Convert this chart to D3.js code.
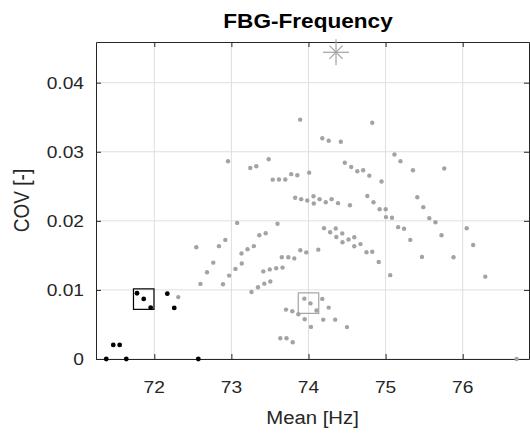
<!DOCTYPE html>
<html>
<head>
<meta charset="utf-8">
<script src="https://cdn.jsdelivr.net/npm/d3@7"></script>
<style>
  html, body { margin: 0; padding: 0; background: #fff; }
  svg { display: block; font-family: "Liberation Sans", Arial, Helvetica, sans-serif; }
</style>
</head>
<body>
<svg id="chart" width="530" height="434"></svg>
<script>
// Selected sensor (black) and the remaining sensors (gray): mean frequency vs. coefficient of variation
const selectedMean = [71.377, 71.468, 71.551, 71.637, 71.776, 71.863, 71.953, 72.169, 72.259, 72.571];
const selectedCov  = [0, 0.00204, 0.00204, 0, 0.00952, 0.00870, 0.00744, 0.00946, 0.00740, 0];

const otherMean = [
  72.956, 73.245, 73.323, 73.484, 73.536, 73.617, 73.699, 73.776, 73.855, 74.009,
  73.892, 74.179, 74.262, 74.419, 74.471, 74.554, 74.633, 74.709, 74.789, 74.947,
  74.827, 75.115, 75.193, 75.355, 75.761, 73.827, 73.905, 73.984, 74.065, 74.069,
  74.144, 74.224, 74.300, 74.383, 74.538, 74.763, 74.843, 74.923, 75.001, 75.005,
  75.083, 75.163, 75.239, 75.320, 75.411, 75.489, 75.567, 75.647, 75.725, 76.052,
  76.136, 75.472, 75.881, 76.293, 75.060, 74.201, 74.281, 74.353, 74.361, 74.438,
  74.441, 74.519, 74.594, 74.594, 74.674, 74.752, 74.827, 74.911, 73.075, 73.598,
  73.362, 73.445, 72.921, 72.839, 72.545, 73.291, 73.209, 73.131, 72.765, 73.135,
  73.053, 72.684, 73.414, 73.498, 73.581, 73.663, 73.654, 73.738, 73.816, 73.894,
  73.971, 74.127, 72.971, 72.599, 72.891, 73.261, 73.345, 73.427, 73.505, 72.311,
  73.946, 74.026, 74.104, 74.179, 74.262, 73.708, 73.790, 73.868, 73.951, 74.191,
  74.346, 74.032, 74.499, 73.634, 73.715, 73.795, 76.700
];
const otherCov = [
  0.02862, 0.02766, 0.02790, 0.02891, 0.02596, 0.02599, 0.02599, 0.02676, 0.02660, 0.02698,
  0.03465, 0.03195, 0.03159, 0.03145, 0.02842, 0.02780, 0.02718, 0.02732, 0.02654, 0.02570,
  0.03421, 0.02961, 0.02862, 0.02732, 0.02758, 0.02334, 0.02314, 0.02295, 0.02356, 0.02252,
  0.02314, 0.02269, 0.02314, 0.02256, 0.02226, 0.02360, 0.02269, 0.02168, 0.02168, 0.02054,
  0.02045, 0.01909, 0.01886, 0.01724, 0.02342, 0.02198, 0.02039, 0.01980, 0.01792, 0.01893,
  0.01651, 0.01478, 0.01473, 0.01192, 0.01214, 0.01894, 0.01835, 0.01890, 0.01767, 0.01818,
  0.01690, 0.01731, 0.01763, 0.01632, 0.01663, 0.01546, 0.01553, 0.01405, 0.01970, 0.01958,
  0.01792, 0.01821, 0.01724, 0.01634, 0.01618, 0.01634, 0.01589, 0.01528, 0.01395, 0.01383,
  0.01304, 0.01256, 0.01268, 0.01297, 0.01314, 0.01323, 0.01473, 0.01473, 0.01456, 0.01575,
  0.01543, 0.01583, 0.01207, 0.01087, 0.01082, 0.00971, 0.01039, 0.01091, 0.01123, 0.00896,
  0.00874, 0.00805, 0.00703, 0.00870, 0.00744, 0.00715, 0.00692, 0.00648, 0.00576, 0.00570,
  0.00570, 0.00465, 0.00462, 0.00301, 0.00301, 0.00243, 0
];

// Cluster centres drawn as square markers, and the reference point drawn as an asterisk
const boxMean = [71.863, 74.000];
const boxCov  = [0.00867, 0.00809];
const boxGroup = ["selected", "other"];
const starMean = [74.357];
const starCov  = [0.0444];

const xTicks = [72, 73, 74, 75, 76];
const yTicks = [0, 0.01, 0.02, 0.03, 0.04];
const yTickLabels = ["0", "0.01", "0.02", "0.03", "0.04"];

const titleText = "FBG-Frequency";
const xLabel = "Mean [Hz]";
const yLabel = "COV [-]";

const axisColor = "#262626";
const gridColor = "#dfdfdf";
const grayColor = "#a3a3a3";
const textStretch = 1.13;   // glyphs are drawn slightly wider than tall

const svg = d3.select("#chart");
const margin = { left: 96, top: 42, right: 1, bottom: 75 };
const W = 530, H = 434;
const innerW = W - margin.left - margin.right;
const innerH = H - margin.top - margin.bottom;

const x = d3.scaleLinear().domain([71.244, 76.860]).range([0, innerW]);
const y = d3.scaleLinear().domain([0, 0.04589]).range([innerH, 0]);

const g = svg.append("g").attr("transform", `translate(${margin.left},${margin.top})`);

// grid
g.append("g").selectAll("line").data(xTicks).join("line")
  .attr("x1", d => x(d)).attr("x2", d => x(d))
  .attr("y1", 0).attr("y2", innerH)
  .attr("stroke", gridColor).attr("stroke-width", 1);
g.append("g").selectAll("line").data(yTicks).join("line")
  .attr("y1", d => y(d)).attr("y2", d => y(d))
  .attr("x1", 0).attr("x2", innerW)
  .attr("stroke", gridColor).attr("stroke-width", 1);

// axes with inward ticks on all four sides; labels placed separately
const tickLen = 5;
const styleAxis = sel => {
  sel.select(".domain").attr("stroke", axisColor).attr("stroke-width", 1);
  sel.selectAll(".tick line").attr("stroke", axisColor);
  sel.selectAll(".tick text").remove();
};

g.append("g").attr("transform", `translate(0,${innerH})`)
  .call(d3.axisBottom(x).tickValues(xTicks).tickSizeInner(-tickLen).tickSizeOuter(0))
  .call(styleAxis);
g.append("g")
  .call(d3.axisTop(x).tickValues(xTicks).tickSizeInner(-tickLen).tickSizeOuter(0))
  .call(styleAxis);
g.append("g")
  .call(d3.axisLeft(y).tickValues(yTicks).tickSizeInner(-tickLen).tickSizeOuter(0))
  .call(styleAxis);
g.append("g").attr("transform", `translate(${innerW},0)`)
  .call(d3.axisRight(y).tickValues(yTicks).tickSizeInner(-tickLen).tickSizeOuter(0))
  .call(styleAxis);

// tick labels
const tickFont = 17;
g.append("g").selectAll("text").data(xTicks).join("text")
  .attr("transform", d => `translate(${x(d)},${innerH + 34}) scale(${textStretch},1)`)
  .attr("text-anchor", "middle")
  .style("font-size", tickFont + "px").attr("fill", axisColor)
  .text(d3.format("d"));
g.append("g").selectAll("text").data(yTicks).join("text")
  .attr("transform", d => `translate(-12,${y(d) + 6}) scale(${textStretch},1)`)
  .attr("text-anchor", "end")
  .style("font-size", tickFont + "px").attr("fill", axisColor)
  .text((d, i) => yTickLabels[i]);

// points
const plot = g.append("g");
plot.selectAll("circle.other").data(otherMean).join("circle")
  .attr("class", "other")
  .attr("cx", d => x(d)).attr("cy", (d, i) => y(otherCov[i]))
  .attr("r", 2.2).attr("fill", grayColor);

plot.selectAll("circle.sel").data(selectedMean).join("circle")
  .attr("class", "sel")
  .attr("cx", d => x(d)).attr("cy", (d, i) => y(selectedCov[i]))
  .attr("r", 2.4).attr("fill", "#000");

// cluster boxes
const boxSize = 20.5;
plot.selectAll("rect.box").data(boxMean).join("rect")
  .attr("class", "box")
  .attr("x", d => x(d) - boxSize / 2)
  .attr("y", (d, i) => y(boxCov[i]) - boxSize / 2)
  .attr("width", boxSize).attr("height", boxSize)
  .attr("fill", "none")
  .attr("stroke", (d, i) => boxGroup[i] === "selected" ? "#000" : grayColor)
  .attr("stroke-width", 1.2);

// asterisk marker
const starR = 13;
starMean.forEach((m, i) => {
  const cx = x(m), cy = y(starCov[i]);
  const s = plot.append("g").attr("stroke", grayColor).attr("stroke-width", 1.2);
  [0, 45, 90, 135].forEach(a => {
    const r = a * Math.PI / 180;
    const k = (a % 90 === 0) ? starR : starR * 0.72;
    s.append("line")
      .attr("x1", cx - k * Math.cos(r)).attr("y1", cy - k * Math.sin(r))
      .attr("x2", cx + k * Math.cos(r)).attr("y2", cy + k * Math.sin(r));
  });
});

// title and axis labels
svg.append("text")
  .attr("transform", `translate(308,28) scale(${textStretch},1)`)
  .attr("text-anchor", "middle")
  .style("font-size", "20px").style("font-weight", "bold")
  .attr("fill", "#000")
  .text(titleText);

svg.append("text")
  .attr("transform", `translate(${margin.left + innerW / 2},424) scale(${textStretch},1)`)
  .attr("text-anchor", "middle")
  .style("font-size", "18px")
  .attr("fill", axisColor)
  .text(xLabel);

svg.append("text")
  .attr("transform", `translate(29,${margin.top + innerH / 2}) scale(${textStretch},1) rotate(-90)`)
  .attr("text-anchor", "middle")
  .style("font-size", "19px")
  .attr("fill", axisColor)
  .text(yLabel);
</script>
</body>
</html>
